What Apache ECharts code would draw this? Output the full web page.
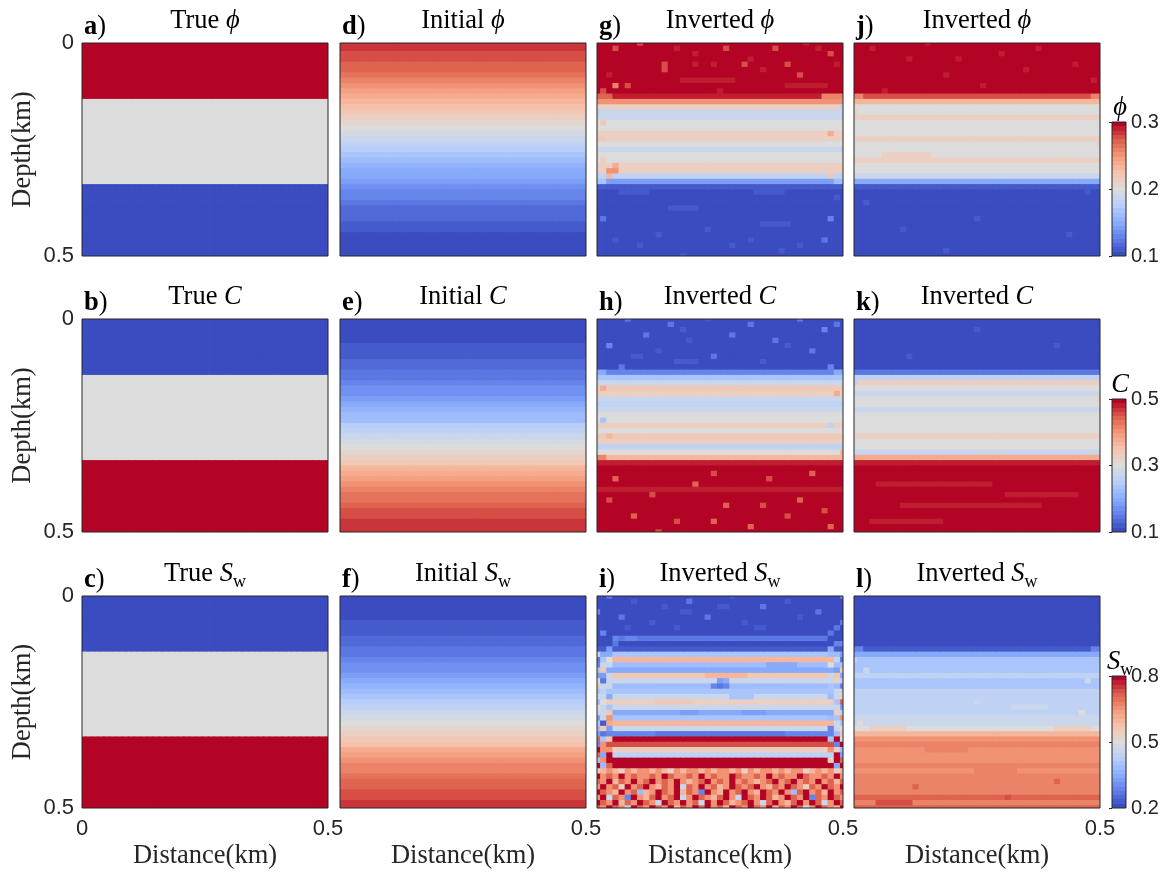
<!DOCTYPE html>
<html>
<head>
<meta charset="utf-8">
<script src="https://cdn.jsdelivr.net/npm/echarts@6/dist/echarts.min.js"></script>
<style>
  html, body { margin: 0; padding: 0; background: #ffffff; }
  #chart { width: 1167px; height: 873px; }
</style>
</head>
<body>
<div id="chart"></div>
<script>
// ---------------------------------------------------------------------------
// Model grid: 41 x 41 nodes, 0-0.5 km in distance and depth (12.5 m spacing)
// ---------------------------------------------------------------------------
const NX = 41;
const NZ = 41;
const SPACING = 0.0125;                 // km
const distanceTicks = [0, 0.5];
const depthTicks = [0, 0.5];

const properties = ['phi', 'C', 'Sw'];
const colorRange = { phi: [0.1, 0.3], C: [0.1, 0.5], Sw: [0.2, 0.8] };
const colorbarTicks = { phi: [0.1, 0.2, 0.3], C: [0.1, 0.3, 0.5], Sw: [0.2, 0.5, 0.8] };

// True three-layer model: value of each layer and the layer each depth row sits in
const trueLayerValues = { phi: [0.3, 0.2, 0.1], C: [0.1, 0.3, 0.5], Sw: [0.2, 0.5, 0.8] };
const trueLayerOfRow = '0000000000 0111111111 1111111222 2222222222 2';

// Initial (smooth) models, one value per depth row
const initialPhi = [
  0.282, 0.281, 0.279, 0.277, 0.274, 0.270, 0.265, 0.259, 0.253, 0.246,
  0.239, 0.232, 0.225, 0.218, 0.211, 0.205, 0.199, 0.193, 0.187, 0.181,
  0.175, 0.169, 0.163, 0.157, 0.151, 0.146, 0.141, 0.136, 0.131, 0.127,
  0.123, 0.119, 0.116, 0.113, 0.110, 0.108, 0.106, 0.104, 0.103, 0.102, 0.101
];
const initialC = [
  0.104, 0.105, 0.107, 0.109, 0.112, 0.116, 0.120, 0.125, 0.131, 0.137,
  0.144, 0.151, 0.159, 0.167, 0.176, 0.185, 0.195, 0.206, 0.217, 0.229,
  0.242, 0.256, 0.270, 0.285, 0.300, 0.315, 0.330, 0.345, 0.360, 0.374,
  0.388, 0.401, 0.413, 0.424, 0.434, 0.443, 0.451, 0.458, 0.464, 0.469, 0.473
];
const initialSw = [
  0.206, 0.208, 0.210, 0.214, 0.218, 0.224, 0.230, 0.238, 0.246, 0.256,
  0.266, 0.277, 0.289, 0.301, 0.314, 0.328, 0.343, 0.359, 0.376, 0.394,
  0.413, 0.434, 0.456, 0.478, 0.500, 0.522, 0.544, 0.566, 0.587, 0.608,
  0.628, 0.647, 0.665, 0.682, 0.697, 0.710, 0.722, 0.732, 0.741, 0.748, 0.754
];

// Inverted models on a 21-step scale: A = bottom of the colour range, K = middle, U = top.
// base: one level per depth row; spots: [row, firstCol, lastCol, level]; full: whole rows.
const LEVELS = 'ABCDEFGHIJKLMNOPQRSTU';

const invertedPhi1 = {
  base: 'UUUUUUUUUU TPLJJKKLLK JKKLLIEBAA AAAAAAAAAA A',
  spots: [
    [0,7,7,'S'],[1,3,3,'S'],[1,13,13,'T'],[2,16,16,'T'],[1,21,21,'S'],[1,29,29,'S'],[0,34,34,'T'],[1,36,36,'T'],
    [4,11,11,'S'],[4,16,16,'T'],[4,19,19,'T'],[4,24,24,'S'],[4,31,31,'S'],[4,39,39,'T'],[5,11,11,'S'],[5,27,27,'T'],
    [6,2,2,'T'],[7,14,22,'T'],[8,5,5,'S'],[8,3,3,'Q'],[8,31,37,'T'],[9,1,1,'S'],[3,25,25,'T'],[6,33,33,'S'],
    [2,38,38,'S'],[9,20,20,'T'],[10,0,2,'R'],[10,37,40,'Q'],
    [12,40,40,'I'],[13,0,0,'I'],[17,38,38,'O'],[18,0,1,'M'],[22,1,1,'L'],[23,3,3,'O'],[24,2,3,'P'],[25,2,2,'N'],
    [25,38,38,'M'],[24,39,40,'L'],[20,40,40,'I'],[15,1,1,'M'],[26,0,1,'H'],[26,39,40,'G'],
    [33,1,1,'C'],[33,38,38,'D'],[35,18,18,'B'],[29,39,39,'B'],[38,7,7,'B'],[37,25,25,'B'],[38,33,33,'B'],[37,3,3,'B'],
    [37,37,37,'C'],[38,22,22,'B'],[28,4,8,'B'],[28,26,30,'B'],[31,12,16,'B'],[34,27,31,'B'],[36,10,10,'B'],[39,30,30,'B'],[40,14,14,'B']
  ]
};

const invertedPhi2 = {
  base: 'UUUUUUUUUU SNKKLKKKLK KKLKKJFBAA AAAAAAAAAA A',
  spots: [
    [1,3,3,'T'],[3,9,9,'T'],[2,24,24,'T'],[1,30,30,'T'],[4,36,36,'T'],[6,15,15,'T'],[8,21,21,'T'],[9,5,5,'T'],
    [0,12,12,'T'],[5,28,28,'T'],[7,39,39,'T'],[3,17,17,'T'],[10,0,1,'Q'],[10,39,40,'Q'],[13,0,0,'L'],[19,40,40,'L'],
    [14,10,20,'L'],[21,5,12,'L'],[30,2,2,'B'],[28,38,38,'B'],[33,20,20,'B'],[36,35,35,'B'],[35,8,8,'B'],[39,15,15,'B']
  ]
};

const invertedC1 = {
  base: 'AAAAAAAAAA DHJMLJIJKK LKMLIKNTUU UUTUUUUUUU U',
  spots: [
    [0,5,5,'C'],[1,12,12,'C'],[0,18,18,'B'],[1,25,25,'C'],[0,33,33,'C'],[2,37,37,'D'],[3,8,8,'C'],[4,15,15,'B'],
    [3,22,22,'C'],[4,29,29,'C'],[5,2,2,'D'],[6,10,10,'B'],[6,35,35,'C'],[7,19,19,'C'],[8,27,27,'B'],[9,4,4,'C'],
    [9,38,38,'D'],[2,14,14,'B'],[5,31,31,'B'],[1,39,39,'C'],[7,6,7,'B'],[8,13,16,'B'],
    [10,0,1,'F'],[10,39,40,'F'],[13,1,1,'O'],[22,2,2,'N'],[14,39,39,'O'],[20,38,38,'I'],[19,1,1,'H'],[25,40,40,'N'],[26,0,1,'Q'],
    [30,3,3,'R'],[33,9,9,'S'],[31,16,16,'R'],[35,21,21,'R'],[30,28,28,'S'],[34,33,33,'R'],[36,37,37,'S'],[37,6,6,'R'],
    [38,13,13,'S'],[39,25,25,'R'],[37,31,31,'S'],[39,38,38,'R'],[34,2,2,'S'],[29,19,19,'S'],[29,35,35,'R'],[40,10,10,'S'],
    [35,27,27,'S'],[38,19,19,'R']
  ]
};

const invertedC2 = {
  base: 'AAAAAAAAAA CILKJKKJKK KKLKKJOTUU UUUUUUUUUU U',
  spots: [
    [31,4,22,'T'],[35,8,30,'T'],[33,25,36,'T'],[38,3,14,'T'],[12,0,0,'I'],[15,40,40,'L'],[2,20,20,'B'],[5,33,33,'B'],[7,9,9,'B']
  ]
};

const invertedSw1 = {
  base: 'AAAAAAAAAA BHNGFMJGHJ LJFHNJDUSL IUUPPQPRQR Q',
  full: {
    33: 'LNPNLPNPPN PNLPNPPNPN PPNPLPNPPN PNPPLNPNPL N',
    34: 'UPRPUPRPPR PURPPRPUPR PPURPPRPUP RPPURPPRPU P',
    35: 'RPUNRPUPRU PRPUPNPRUP RPUPRPNPRU PRUPRPUPRN R',
    36: 'PUPRLUPRUP NRPUJRPUPR NPURPRUPNR PURPLRPURP U',
    37: 'URPNUPRGNP URPUNRPDUP NUPRUPNURP UPGRUPRNUP R',
    38: 'PUJRPDUPNR UPRUJPURPN RUPJURPURN PURPUDRPUR P',
    39: 'URPUNRPURP JURPUPRJUP URNPRUPJRU PNRUPURJPU R',
    40: 'RPURPJURPU RPUNRPURUP RNURPURPUN RPURJPURPN U'
  },
  spots: [
    [0,2,2,'C'],[1,6,6,'B'],[2,11,11,'B'],[1,15,15,'C'],[0,22,22,'B'],[2,27,27,'C'],[1,31,31,'B'],[3,36,36,'C'],
    [0,40,40,'D'],[4,4,4,'C'],[5,9,9,'B'],[4,18,18,'C'],[5,24,24,'B'],[4,33,33,'B'],[6,39,39,'C'],[7,1,1,'D'],
    [8,3,3,'D'],[10,2,2,'E'],[9,3,3,'C'],[6,5,5,'B'],[6,13,13,'B'],[3,14,15,'B'],[2,20,21,'B'],[6,26,27,'B'],
    [8,4,37,'C'],[8,5,6,'D'],[9,39,40,'D'],[10,38,38,'F'],[7,38,38,'C'],[3,0,0,'D'],[5,40,40,'C'],
    [11,0,0,'J'],[11,1,2,'F'],[12,0,0,'C'],[12,1,1,'H'],[12,2,2,'K'],[13,0,0,'D'],[13,1,2,'J'],[14,0,0,'H'],
    [14,1,1,'M'],[15,0,1,'E'],[15,2,2,'J'],[16,0,0,'K'],[16,1,1,'C'],[17,0,0,'M'],[17,1,2,'J'],[18,0,0,'H'],
    [18,1,1,'I'],[19,0,0,'J'],[19,2,2,'F'],[20,0,0,'G'],[20,1,1,'K'],[21,0,0,'K'],[21,2,2,'H'],[22,0,1,'J'],
    [22,2,2,'M'],[23,0,0,'E'],[23,1,1,'J'],[23,2,2,'P'],[24,0,0,'H'],[24,1,1,'B'],[24,2,2,'O'],[25,0,0,'G'],
    [25,1,1,'M'],[25,2,2,'E'],[26,0,0,'E'],[26,1,1,'C'],[26,2,2,'D'],[27,0,0,'R'],[27,1,1,'H'],[27,2,2,'M'],
    [28,0,0,'D'],[28,1,1,'P'],[29,0,0,'U'],[29,1,2,'P'],[30,0,0,'R'],[30,1,1,'F'],[30,2,2,'U'],[31,0,0,'H'],
    [31,1,1,'P'],[32,0,0,'U'],[32,1,1,'G'],[32,2,2,'R'],
    [11,40,40,'E'],[11,38,39,'G'],[12,39,39,'J'],[12,40,40,'C'],[13,38,38,'K'],[13,40,40,'H'],[14,39,39,'E'],
    [14,40,40,'L'],[15,38,38,'J'],[15,40,40,'F'],[16,39,39,'L'],[16,40,40,'I'],[17,38,38,'H'],[17,40,40,'D'],
    [18,39,40,'J'],[19,38,38,'G'],[19,40,40,'L'],[20,39,39,'H'],[20,40,40,'R'],[21,38,38,'J'],[21,40,40,'E'],
    [22,39,39,'L'],[22,40,40,'I'],[23,38,38,'G'],[23,40,40,'P'],[24,39,39,'J'],[24,40,40,'H'],[25,38,38,'D'],
    [25,40,40,'K'],[26,39,39,'G'],[26,40,40,'M'],[27,38,38,'H'],[27,40,40,'K'],[28,39,39,'D'],[28,40,40,'U'],
    [29,38,38,'P'],[29,40,40,'G'],[30,39,39,'U'],[30,40,40,'E'],[31,38,38,'L'],[31,40,40,'R'],[32,39,39,'F'],[32,40,40,'U'],
    [17,19,19,'D'],[17,20,20,'C'],[17,21,21,'D'],[16,20,20,'E'],[16,21,21,'F'],[22,14,16,'E'],[22,24,27,'E'],
    [19,22,25,'H'],[20,10,15,'M'],[15,18,24,'N'],[13,28,32,'F'],[26,10,30,'C']
  ]
};

const invertedSw2 = {
  base: 'AAAAAAAAAA BFHHHIHHII IIIJJKNPQP PPQPQQQQRQ R',
  spots: [
    [14,2,2,'J'],[16,38,38,'J'],[20,20,20,'J'],[22,37,37,'K'],[24,1,1,'K'],[36,10,10,'R'],[38,25,25,'S'],[35,33,33,'R'],
    [12,0,0,'I'],[18,5,9,'I'],[21,26,31,'J'],[25,3,8,'L'],[25,33,38,'L'],[29,12,18,'Q'],[33,20,26,'Q'],[39,4,9,'S'],
    [10,0,1,'D'],[10,39,40,'D']
  ]
};

// Panel text
const columnTitles = ['True', 'Initial', 'Inverted', 'Inverted'];
const panelLetters = [['a', 'd', 'g', 'j'], ['b', 'e', 'h', 'k'], ['c', 'f', 'i', 'l']];
const xAxisName = 'Distance(km)';
const yAxisName = 'Depth(km)';

// ---------------------------------------------------------------------------
// Styling and layout
// ---------------------------------------------------------------------------
const SERIF = "'Liberation Serif', 'Times New Roman', serif";
const SANS = "'Liberation Sans', Arial, Helvetica, sans-serif";
const INK = '#262626';
const COOLWARM = ['#3b4cc0', '#6282ea', '#8db0fe', '#b9d0f9', '#dddcdc', '#f5c4ac', '#f49a7b', '#de604d', '#b40426'];
const COLOR_STEPS = 31;                 // the colour map is used as a stepped table

const layout = {
  colLeft: [82, 340, 597, 854], colWidth: 246,
  rowTop: [43, 319, 596], rowHeight: [213, 213, 212],
  cbLeft: 1112, cbWidth: 14, cbTop: [122, 399, 676], cbHeight: [134, 133, 132]
};

// ---------------------------------------------------------------------------
// Build cell tables
// ---------------------------------------------------------------------------
function clean(s) { return s.replace(/\s+/g, ''); }

function toCells(valueAt) {
  const cells = [];
  for (let r = 0; r < NZ; r++) {
    for (let c = 0; c < NX; c++) cells.push([c * SPACING, r * SPACING, valueAt(r, c)]);
  }
  return cells;
}

function trueCells(prop) {
  const rows = clean(trueLayerOfRow);
  if (rows.length !== NZ) throw new Error('true layer rows: ' + rows.length);
  return toCells((r) => trueLayerValues[prop][+rows[r]]);
}

function profileCells(profile) {
  if (profile.length !== NZ) throw new Error('profile length ' + profile.length);
  return toCells((r) => profile[r]);
}

function letterCells(spec, prop) {
  const [lo, hi] = colorRange[prop];
  const val = (ch) => {
    const k = LEVELS.indexOf(ch);
    if (k < 0) throw new Error('bad level ' + ch);
    return lo + (hi - lo) * k / (LEVELS.length - 1);
  };
  const base = clean(spec.base);
  if (base.length !== NZ) throw new Error('base rows: ' + base.length);
  const grid = [];
  for (let r = 0; r < NZ; r++) {
    const line = spec.full && spec.full[r] ? clean(spec.full[r]) : base[r].repeat(NX);
    if (line.length !== NX) throw new Error('row ' + r + ' has ' + line.length);
    grid.push(line.split('').map(val));
  }
  (spec.spots || []).forEach(([r, c0, c1, ch]) => {
    for (let c = c0; c <= c1; c++) grid[r][c] = val(ch);
  });
  return toCells((r, c) => grid[r][c]);
}

const panelCells = [
  [trueCells('phi'), profileCells(initialPhi), letterCells(invertedPhi1, 'phi'), letterCells(invertedPhi2, 'phi')],
  [trueCells('C'),   profileCells(initialC),   letterCells(invertedC1, 'C'),     letterCells(invertedC2, 'C')],
  [trueCells('Sw'),  profileCells(initialSw),  letterCells(invertedSw1, 'Sw'),   letterCells(invertedSw2, 'Sw')]
];

// ---------------------------------------------------------------------------
// Stepped colour table
// ---------------------------------------------------------------------------
function stepColor(i) { return echarts.color.lerp(i / (COLOR_STEPS - 1), COOLWARM); }

function colorPieces(lo, hi) {
  const pieces = [];
  const w = (hi - lo) / COLOR_STEPS;
  for (let i = 0; i < COLOR_STEPS; i++) {
    const piece = { color: stepColor(i) };
    piece.gte = i === 0 ? lo - 1 : lo + i * w;
    if (i < COLOR_STEPS - 1) piece.lt = lo + (i + 1) * w; else piece.lte = hi + 1;
    pieces.push(piece);
  }
  return pieces;
}

function colorbarStops() {
  const stops = [];
  for (let i = 0; i < COLOR_STEPS; i++) {
    const c = stepColor(i);
    stops.push({ offset: i / COLOR_STEPS, color: c }, { offset: (i + 1) / COLOR_STEPS, color: c });
  }
  return stops;
}

// ---------------------------------------------------------------------------
// Chart option
// ---------------------------------------------------------------------------
const HALF = SPACING / 2;

function renderCell(params, api) {
  const x = api.value(0), z = api.value(1);
  const a = api.coord([x - HALF, z - HALF]);
  const b = api.coord([x + HALF, z + HALF]);
  const cs = params.coordSys;
  // cells overlap their right/lower neighbour slightly so no seams show
  const shape = echarts.graphic.clipRectByRect(
    { x: Math.min(a[0], b[0]), y: Math.min(a[1], b[1]), width: Math.abs(b[0] - a[0]) + 0.8, height: Math.abs(b[1] - a[1]) + 0.8 },
    { x: cs.x, y: cs.y, width: cs.width, height: cs.height }
  );
  if (!shape) return null;
  return { type: 'rect', shape, style: { fill: api.visual('color') } };
}

function renderColorbar(params, api) {
  const a = api.coord([0, api.value(1)]);
  const b = api.coord([1, api.value(2)]);
  return {
    type: 'rect',
    shape: { x: a[0], y: b[1], width: b[0] - a[0], height: a[1] - b[1] },
    style: { fill: new echarts.graphic.LinearGradient(0, 1, 0, 0, colorbarStops()) }
  };
}

const symbolText = { phi: '{it|ϕ}', C: '{it|C}', Sw: '{it|S}{sub|w}' };
const richStyles = {
  rm:  { fontFamily: SERIF, fontSize: 26.5, lineHeight: 34, color: '#000' },
  it:  { fontFamily: SERIF, fontSize: 26.5, lineHeight: 34, fontStyle: 'italic', color: '#000' },
  bf:  { fontFamily: SERIF, fontSize: 26.5, lineHeight: 34, fontWeight: 'bold', color: '#000' },
  sub: { fontFamily: SERIF, fontSize: 18, lineHeight: 18, verticalAlign: 'bottom', color: '#000' }
};

const grid = [], xAxis = [], yAxis = [], series = [], visualMap = [], graphic = [];

properties.forEach((prop, p) => {
  const seriesIdx = [];
  for (let k = 0; k < 4; k++) {
    const gi = grid.length;
    grid.push({
      left: layout.colLeft[k], top: layout.rowTop[p], width: layout.colWidth, height: layout.rowHeight[p],
      show: true, borderColor: INK, borderWidth: 1, backgroundColor: 'rgba(0,0,0,0)', z: 10
    });
    xAxis.push({
      gridIndex: gi, type: 'value', min: distanceTicks[0], max: distanceTicks[1], interval: 0.5,
      axisLine: { show: false }, axisTick: { show: false }, splitLine: { show: false },
      axisLabel: {
        show: p === 2, margin: 10, fontFamily: SANS, fontSize: 22, color: INK,
        formatter: (v) => (k > 0 && v === 0) ? '' : String(v)
      },
      name: p === 2 ? xAxisName : '', nameLocation: 'middle', nameGap: 35,
      nameTextStyle: { fontFamily: SERIF, fontSize: 26.5, color: INK }
    });
    yAxis.push({
      gridIndex: gi, type: 'value', inverse: true, min: depthTicks[0], max: depthTicks[1], interval: 0.5,
      axisLine: { show: false }, axisTick: { show: false }, splitLine: { show: false },
      axisLabel: { show: k === 0, margin: 8, fontFamily: SANS, fontSize: 22, color: INK, formatter: (v) => String(v) },
      name: k === 0 ? yAxisName : '', nameLocation: 'middle', nameGap: 45, nameRotate: 90,
      nameTextStyle: { fontFamily: SERIF, fontSize: 26.5, color: INK }
    });
    seriesIdx.push(series.length);
    series.push({
      type: 'custom', xAxisIndex: gi, yAxisIndex: gi, renderItem: renderCell,
      data: panelCells[p][k], encode: { x: 0, y: 1 }, silent: true, animation: false
    });

    const cx = layout.colLeft[k] + layout.colWidth / 2;
    const dy = layout.rowTop[p] - layout.rowTop[0];
    graphic.push({
      type: 'text', x: cx, y: 21 + dy, silent: true,
      style: { text: '{rm|' + columnTitles[k] + ' }' + symbolText[prop], rich: richStyles, align: 'center', verticalAlign: 'middle' }
    });
    graphic.push({
      type: 'text', x: layout.colLeft[k] + 2, y: 27 + dy, silent: true,
      style: { text: '{bf|' + panelLetters[p][k] + '}{rm|)}', rich: richStyles, align: 'left', verticalAlign: 'middle' }
    });
  }

  // colour bar for this property
  const [lo, hi] = colorRange[prop];
  const gi = grid.length;
  grid.push({
    left: layout.cbLeft, top: layout.cbTop[p], width: layout.cbWidth, height: layout.cbHeight[p],
    show: true, borderColor: INK, borderWidth: 1, backgroundColor: 'rgba(0,0,0,0)', z: 10
  });
  xAxis.push({ gridIndex: gi, type: 'value', min: 0, max: 1, show: false });
  yAxis.push({
    gridIndex: gi, type: 'value', min: lo, max: hi, position: 'right',
    axisLine: { show: false }, splitLine: { show: false },
    axisTick: { show: true, inside: true, length: 3, lineStyle: { color: INK }, customValues: colorbarTicks[prop] },
    axisLabel: { show: true, margin: 5, fontFamily: SANS, fontSize: 20, color: INK, customValues: colorbarTicks[prop], formatter: (v) => String(v) }
  });
  series.push({
    type: 'custom', xAxisIndex: gi, yAxisIndex: gi, renderItem: renderColorbar,
    data: [[0, lo, hi]], encode: { x: 0, y: [1, 2] }, silent: true, animation: false
  });
  graphic.push({
    type: 'text', x: layout.cbLeft + layout.cbWidth / 2 + 1, y: layout.cbTop[p] - 14, silent: true,
    style: { text: symbolText[prop], rich: richStyles, align: 'center', verticalAlign: 'middle' }
  });

  visualMap.push({
    type: 'piecewise', show: false, seriesIndex: seriesIdx, dimension: 2,
    pieces: colorPieces(lo, hi)
  });
});

const chart = echarts.init(document.getElementById('chart'), null, { renderer: 'canvas' });
chart.setOption({
  backgroundColor: '#ffffff',
  animation: false,
  grid, xAxis, yAxis, series, visualMap, graphic
});
</script>
</body>
</html>
